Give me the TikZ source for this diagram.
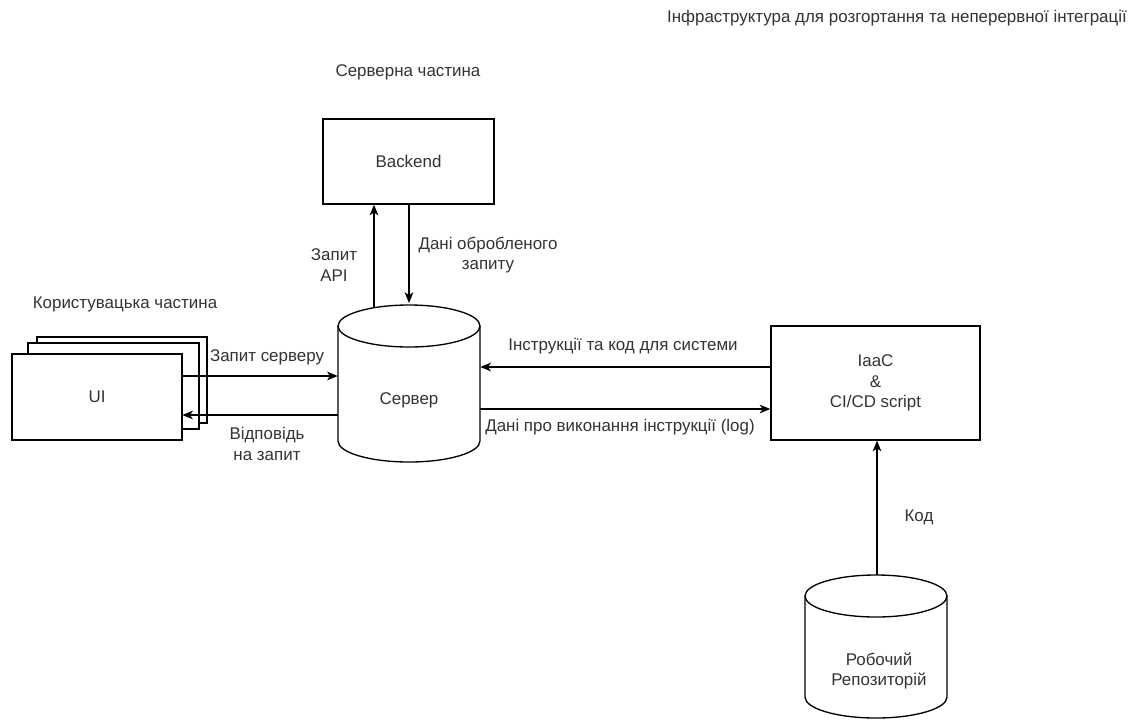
\documentclass[tikz,border=0pt]{standalone}
\usepackage{fontspec}
\setmainfont{Liberation Sans}
\usetikzlibrary{arrows.meta}
\definecolor{txt}{RGB}{51,51,51}
\begin{document}
\begin{tikzpicture}[x=0.75pt,y=-0.75pt,
  every node/.style={font=\fontsize{12.7}{15.5}\selectfont, text=txt, align=center, inner sep=0pt},
  box/.style={draw=black, line width=1pt, fill=white},
  arr/.style={draw=black, line width=1pt, -{Stealth[length=8pt,width=6.5pt,inset=2.2pt]}},
  lbl/.style={}]
\useasboundingbox (0,0) rectangle (1134,725);
\fill[white] (0,0) rectangle (1134,725);

% titles
\node[lbl] (t1) at (897,18) {Інфраструктура для розгортання та неперервної інтеграції};
\node[lbl] (t2) at (408,72) {Серверна частина};
\node[lbl] (t3) at (125,304) {Користувацька частина};

% UI stack
\draw[box] (37,337) rectangle (207,423);
\draw[box] (28,343) rectangle (199,429);
\path[box] (12,354) rectangle (182,440);
\node (ui) at (97,397) [minimum width=170*0.75pt, minimum height=86*0.75pt] {UI};

% Backend
\node[box, minimum width=171*0.75pt, minimum height=85*0.75pt] (be) at (408.5,161.5) {Backend};

% Server cylinder
\draw[line width=1pt, fill=white] (338,326) -- (338,441) arc[start angle=180, end angle=0, x radius=71, y radius=21] -- (480,326);
\draw[line width=1pt] (409,326) ellipse[x radius=71, y radius=21];
\node (srv) at (409,394) [minimum width=142*0.75pt, minimum height=157*0.75pt] {};
\node at (409,400) {Сервер};
\coordinate (srvtop) at (374,308);

% IaaC box
\node[box, minimum width=209*0.75pt, minimum height=114*0.75pt] (iac) at (875.5,383) {IaaC\\\&\\CI/CD script};

% Repository cylinder
\draw[line width=1pt, fill=white] (805,596) -- (805,697) arc[start angle=180, end angle=0, x radius=71, y radius=21] -- (947,596);
\draw[line width=1pt] (876,596) ellipse[x radius=71, y radius=21];
\node (repo) at (876,646) [minimum width=142*0.75pt, minimum height=142*0.75pt] {};
\node at (879,671) {Робочий\\Репозиторій};

% connectors
\draw[arr] (srvtop) -- (be.south -| srvtop);
\draw[arr] (be.south -| 409,0) -- (409,303);
\node[lbl] at (334,265) {Запит\\API};
\node[lbl] at (488,255) {Дані обробленого\\запиту};

\draw[arr] (ui.east |- 0,376) -- (srv.west |- 0,376);
\draw[arr] (srv.west |- 0,415) -- (ui.east |- 0,415);
\node[lbl] at (267,357) {Запит серверу};
\node[lbl] at (267,444) {Відповідь\\на запит};

\draw[arr] (iac.west |- 0,367) -- (srv.east |- 0,367);
\draw[arr] (srv.east |- 0,409) -- (iac.west |- 0,409);
\node[lbl] at (623,346) {Інструкції та код для системи};
\node[lbl] at (620,427) {Дані про виконання інструкції (log)};

\draw[arr] (repo.north -| 877,0) -- (iac.south -| 877,0);
\node[lbl] at (919,517) {Код};
\end{tikzpicture}
\end{document}
